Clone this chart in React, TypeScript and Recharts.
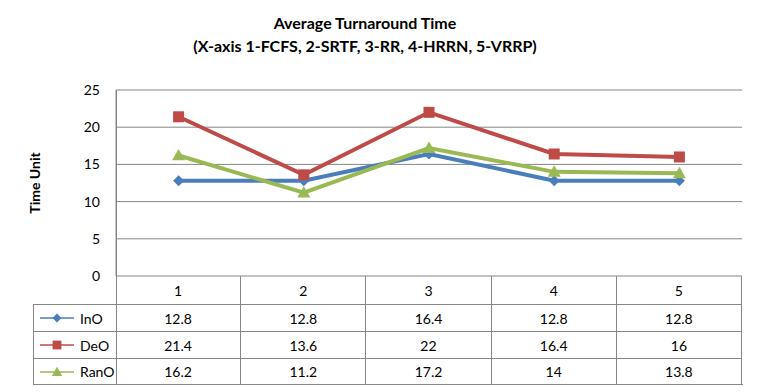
import React from 'react';
import { LineChart, Line, XAxis, YAxis, CartesianGrid } from 'recharts';

// chart data
const categories = ['1', '2', '3', '4', '5'];
const inO = [12.8, 12.8, 16.4, 12.8, 12.8];
const deO = [21.4, 13.6, 22, 16.4, 16];
const ranO = [16.2, 11.2, 17.2, 14, 13.8];
const yTicks = [0, 5, 10, 15, 20, 25];

type Shape = 'diamond' | 'square' | 'triangle';

interface SeriesDef {
  key: string;
  name: string;
  color: string;
  shape: Shape;
  values: number[];
}

const series: SeriesDef[] = [
  { key: 'inO', name: 'InO', color: '#4a7ebb', shape: 'diamond', values: inO },
  { key: 'deO', name: 'DeO', color: '#be4b48', shape: 'square', values: deO },
  { key: 'ranO', name: 'RanO', color: '#98b954', shape: 'triangle', values: ranO },
];

const chartData = categories.map((name, i) => {
  const row: { [k: string]: string | number } = { name };
  series.forEach(s => {
    row[s.key] = s.values[i];
  });
  return row;
});

// layout
const W = 763;
const H = 392;
const plotLeft = 116;
const plotRight = 742;
const plotTop = 90;
const plotBottom = 276;
const band = (plotRight - plotLeft) / categories.length;
const rowTops = [276, 304, 331, 358, 384];
const legendLeft = 33;
const gridColor = '#868686';
const font = 'Lato, "Open Sans", sans-serif';

const Marker = ({ shape, color, cx, cy, s = 1 }: { shape: Shape; color: string; cx: number; cy: number; s?: number }) => {
  if (shape === 'diamond') {
    const r = 5.5 * s;
    return <polygon points={`${cx},${cy - r} ${cx + r},${cy} ${cx},${cy + r} ${cx - r},${cy}`} fill={color} />;
  }
  if (shape === 'square') {
    const r = 5.5 * s;
    return <rect x={cx - r} y={cy - r} width={r * 2} height={r * 2} fill={color} />;
  }
  const r = 6.5 * s;
  return <polygon points={`${cx},${cy - r} ${cx + r},${cy + r * 0.75} ${cx - r},${cy + r * 0.75}`} fill={color} />;
};

const cellText: React.CSSProperties = {
  position: 'absolute',
  display: 'flex',
  alignItems: 'center',
  justifyContent: 'center',
  fontFamily: font,
  fontSize: 14,
  color: '#000',
  boxSizing: 'border-box',
};

const DataTable = () => {
  const cells: React.ReactNode[] = [];
  // category header row
  categories.forEach((c, i) => {
    cells.push(
      <div
        key={`c${i}`}
        style={{
          ...cellText,
          left: plotLeft + band * i,
          top: rowTops[0],
          width: band,
          height: rowTops[1] - rowTops[0],
          borderRight: `1px solid ${gridColor}`,
        }}
      >
        {c}
      </div>
    );
  });
  series.forEach((s, r) => {
    const top = rowTops[r + 1];
    const h = rowTops[r + 2] - top;
    cells.push(
      <div
        key={`l${r}`}
        style={{
          ...cellText,
          justifyContent: 'flex-start',
          left: legendLeft,
          top,
          width: plotLeft - legendLeft,
          height: h,
          borderLeft: `1px solid ${gridColor}`,
          borderTop: `1px solid ${gridColor}`,
        }}
      >
        <svg width={36} height={14} style={{ marginLeft: 6, marginRight: 4 }}>
          <line x1={0} y1={7} x2={34} y2={7} stroke={s.color} strokeWidth={1.5} />
          <Marker shape={s.shape} color={s.color} cx={17} cy={7} s={0.8} />
        </svg>
        <span>{s.name}</span>
      </div>
    );
    s.values.forEach((v, i) => {
      cells.push(
        <div
          key={`v${r}-${i}`}
          style={{
            ...cellText,
            left: plotLeft + band * i,
            top,
            width: band,
            height: h,
            borderTop: `1px solid ${gridColor}`,
            borderRight: `1px solid ${gridColor}`,
          }}
        >
          {v}
        </div>
      );
    });
  });
  return (
    <>
      {cells}
      {/* outer lines of the table */}
      <div style={{ position: 'absolute', left: legendLeft, top: rowTops[4], width: plotRight - legendLeft + 1, height: 1, background: gridColor }} />
      <div style={{ position: 'absolute', left: plotLeft, top: plotTop, width: 1, height: rowTops[4] - plotTop, background: gridColor }} />
    </>
  );
};

const App = () => {
  return (
    <div style={{ position: 'absolute', left: 0, top: 0, width: W, height: H, background: '#fff', overflow: 'hidden' }}>
      <div
        style={{
          position: 'absolute',
          left: 0,
          top: 11,
          width: 730,
          textAlign: 'center',
          fontFamily: font,
          fontWeight: 'bold',
          fontSize: 16,
          lineHeight: '23px',
          color: '#000',
        }}
      >
        <div>Average Turnaround Time</div>
        <div>(X-axis 1-FCFS, 2-SRTF, 3-RR, 4-HRRN, 5-VRRP)</div>
      </div>
      <div
        style={{
          position: 'absolute',
          left: 34,
          top: 183,
          transform: 'translate(-50%, -50%) rotate(-90deg)',
          fontFamily: font,
          fontWeight: 'bold',
          fontSize: 14,
          whiteSpace: 'nowrap',
        }}
      >
        Time Unit
      </div>
      <div style={{ position: 'absolute', left: 0, top: 0 }}>
        <LineChart
          width={W}
          height={H}
          data={chartData}
          margin={{ top: plotTop, right: W - plotRight, left: plotLeft - 60, bottom: H - plotBottom }}
        >
          <CartesianGrid horizontal vertical={false} stroke={gridColor} />
          <XAxis dataKey="name" hide padding={{ left: band / 2, right: band / 2 }} />
          <YAxis
            width={60}
            domain={[0, 25]}
            ticks={yTicks}
            interval={0}
            axisLine={{ stroke: gridColor }}
            tickLine={false}
            tickSize={0}
            tickMargin={16}
            tick={{ fill: '#000', fontSize: 14, fontFamily: font }}
          />
          {series.map(s => (
            <Line
              key={s.key}
              dataKey={s.key}
              name={s.name}
              type="linear"
              stroke={s.color}
              strokeWidth={4}
              isAnimationActive={false}
              dot={(p: any) => <Marker key={`${s.key}-${p.index}`} shape={s.shape} color={s.color} cx={p.cx} cy={p.cy} />}
              activeDot={false}
            />
          ))}
        </LineChart>
      </div>
      <DataTable />
    </div>
  );
};

export default App;
